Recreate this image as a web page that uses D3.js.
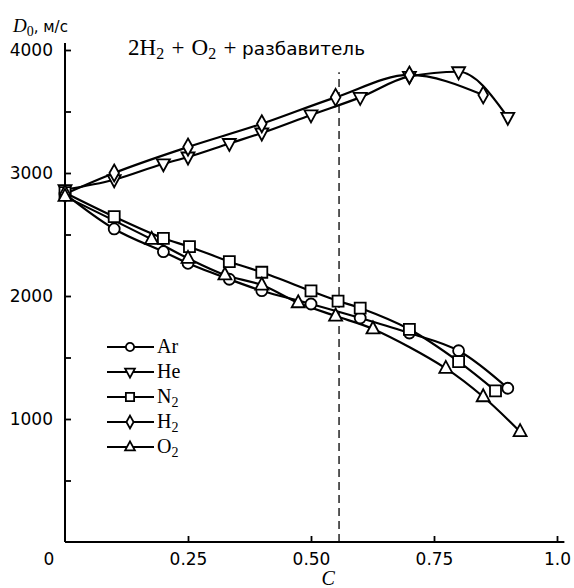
<!DOCTYPE html>
<html><head><meta charset="utf-8">
<script src="https://cdn.jsdelivr.net/npm/d3@7"></script>
<style>body{margin:0;background:#fff}svg{display:block}</style>
</head><body>
<svg id="c" width="574" height="588"></svg>
<script>
// ---- data ----
const seriesNames = ["Ar", "He", "N2", "H2", "O2"];
const C_Ar = [0, 0.1, 0.2, 0.25, 0.334, 0.4, 0.5, 0.6, 0.7, 0.8, 0.9];
const D_Ar = [2830, 2545, 2360, 2266, 2136, 2043, 1935, 1821, 1699, 1555, 1250];
const C_He = [0, 0.1, 0.2, 0.25, 0.334, 0.4, 0.5, 0.6, 0.7, 0.8, 0.9];
const D_He = [2865, 2945, 3075, 3130, 3240, 3325, 3472, 3615, 3785, 3823, 3453];
const C_N2 = [0, 0.1, 0.2, 0.253, 0.334, 0.4, 0.5, 0.555, 0.6, 0.7, 0.8, 0.875];
const D_N2 = [2840, 2645, 2469, 2401, 2279, 2193, 2041, 1959, 1902, 1729, 1466, 1228];
const C_H2 = [0, 0.1, 0.25, 0.4, 0.55, 0.7, 0.85];
const D_H2 = [2830, 3000, 3211, 3400, 3615, 3797, 3634];
const C_O2 = [0, 0.176, 0.25, 0.325, 0.4, 0.474, 0.55, 0.626, 0.774, 0.85, 0.925];
const D_O2 = [2810, 2461, 2306, 2171, 2089, 1945, 1837, 1732, 1412, 1181, 897];
const xTicks = [0.25, 0.5, 0.75, 1.0];
const xTickLabels = ["0.25", "0.50", "0.75", "1.0"];
const yTicks = [500, 1000, 1500, 2000, 2500, 3000, 3500, 4000];
const yTickLabels = ["", "1000", "", "2000", "", "3000", "", "4000"];
const dashedC = 0.557;

const series = [
  {name: "Ar", sub: "", C: C_Ar, D: D_Ar, marker: "circle", smooth: "cr"},
  {name: "He", sub: "", C: C_He, D: D_He, marker: "tridown", smooth: "mono"},
  {name: "N", sub: "2", C: C_N2, D: D_N2, marker: "square", smooth: "cr"},
  {name: "H", sub: "2", C: C_H2, D: D_H2, marker: "diamond", smooth: "mono"},
  {name: "O", sub: "2", C: C_O2, D: D_O2, marker: "triup", smooth: "cr"}
];

// ---- scales ----
const svg = d3.select("#c");
const x = d3.scaleLinear().domain([0, 1]).range([65, 557]);
const y = d3.scaleLinear().domain([0, 4000]).range([542, 50]);

function markerPath(type, s) {
  s = s || 1;
  const p = d3.path();
  if (type === "circle") { p.arc(0, 0, 5.5 * s, 0, 2 * Math.PI); }
  else if (type === "square") { const h = 5.5 * s; p.rect(-h, -h, 2 * h, 2 * h); }
  else if (type === "triup") { p.moveTo(0, -7.5 * s); p.lineTo(6.5 * s, 4.5 * s); p.lineTo(-6.5 * s, 4.5 * s); p.closePath(); }
  else if (type === "tridown") { p.moveTo(0, 7.5 * s); p.lineTo(6.5 * s, -4.5 * s); p.lineTo(-6.5 * s, -4.5 * s); p.closePath(); }
  else if (type === "diamond") { p.moveTo(0, -8.5 * s); p.lineTo(4.8 * s, 0); p.lineTo(0, 8.5 * s); p.lineTo(-4.8 * s, 0); p.closePath(); }
  return p.toString();
}

// ---- axes ----
const xAxis = d3.axisBottom(x).tickValues(xTicks).tickSize(-6).tickPadding(11)
  .tickFormat((d, i) => xTickLabels[i]);
const gx = svg.append("g").attr("transform", `translate(0,${y(0)})`).call(xAxis);
gx.select(".domain").remove();
gx.selectAll("line").attr("stroke", "#000").attr("stroke-width", 1.8);
gx.selectAll("text").attr("font-family", "DejaVu Sans").attr("font-size", 17).attr("fill", "#000");

const yAxis = d3.axisLeft(y).tickValues(yTicks).tickSize(-6).tickPadding(12)
  .tickFormat((d, i) => yTickLabels[i]);
const gy = svg.append("g").attr("transform", `translate(${x(0)},0)`).call(yAxis);
gy.select(".domain").remove();
gy.selectAll("line").attr("stroke", "#000").attr("stroke-width", 1.8);
gy.selectAll("text").attr("font-family", "DejaVu Sans").attr("font-size", 17).attr("fill", "#000");

// axis lines
svg.append("line").attr("x1", x(0)).attr("x2", x(1.015)).attr("y1", y(0)).attr("y2", y(0))
  .attr("stroke", "#000").attr("stroke-width", 2);
svg.append("line").attr("x1", x(0)).attr("x2", x(0)).attr("y1", y(0)).attr("y2", y(4057))
  .attr("stroke", "#000").attr("stroke-width", 2);

// zero label
svg.append("text").attr("x", x(0) - 16).attr("y", y(0) + 23).attr("text-anchor", "middle")
  .attr("font-family", "DejaVu Sans").attr("font-size", 17).text("0");

// axis titles
svg.append("text").attr("x", x(0.535)).attr("y", 585).attr("text-anchor", "middle")
  .attr("font-family", "Liberation Serif").attr("font-style", "italic").attr("font-size", 20).text("C");
const yt = svg.append("text").attr("x", 13).attr("y", 32).attr("font-family", "Liberation Serif").attr("font-size", 19);
yt.append("tspan").attr("font-style", "italic").text("D");
yt.append("tspan").attr("font-size", 14).attr("dy", 4).text("0");
yt.append("tspan").attr("dy", -4).attr("font-family", "DejaVu Sans").attr("font-size", 15).text(", м/с");

// title
const tt = svg.append("text").attr("x", 128).attr("y", 55).attr("font-family", "Liberation Serif")
  .attr("font-size", 23).attr("word-spacing", 1.5);
tt.append("tspan").text("2H");
tt.append("tspan").attr("font-size", 16).attr("dy", 4).text("2");
tt.append("tspan").attr("dy", -4).text(" + O");
tt.append("tspan").attr("font-size", 16).attr("dy", 4).text("2");
tt.append("tspan").attr("dy", -4).text(" +");
svg.append("text").attr("x", 242).attr("y", 55).attr("font-family", "DejaVu Sans").attr("font-size", 17.5)
  .attr("textLength", 123).attr("lengthAdjust", "spacingAndGlyphs").text("разбавитель");

// dashed line
svg.append("line").attr("x1", x(dashedC)).attr("x2", x(dashedC)).attr("y1", y(0)).attr("y2", y(3820))
  .attr("stroke", "#000").attr("stroke-width", 1.3).attr("stroke-dasharray", "8,5");

// ---- curves ----
const lineCR = d3.line().x(d => x(d[0])).y(d => y(d[1])).curve(d3.curveCatmullRom.alpha(0.5));
const lineMono = d3.line().x(d => x(d[0])).y(d => y(d[1])).curve(d3.curveMonotoneX);
series.forEach(s => {
  const pts = s.C.map((c, i) => [c, s.D[i]]);
  const gen = s.smooth === "mono" ? lineMono : lineCR;
  svg.append("path").attr("d", gen(pts)).attr("fill", "none").attr("stroke", "#000").attr("stroke-width", 2.2);
});
series.forEach(s => {
  const pts = s.C.map((c, i) => [c, s.D[i]]);
  svg.append("g").selectAll("path").data(pts).join("path")
    .attr("transform", d => `translate(${x(d[0])},${y(d[1])})`)
    .attr("d", markerPath(s.marker))
    .attr("fill", "#fff").attr("stroke", "#000").attr("stroke-width", 1.8);
});

// ---- legend ----
const lg = svg.append("g");
series.forEach((s, i) => {
  const yy = 347 + i * 25;
  lg.append("line").attr("x1", 107).attr("x2", 154).attr("y1", yy).attr("y2", yy).attr("stroke", "#000").attr("stroke-width", 2);
  lg.append("path").attr("transform", `translate(130,${yy})`).attr("d", markerPath(s.marker, 0.75))
    .attr("fill", "#fff").attr("stroke", "#000").attr("stroke-width", 1.8);
  const t = lg.append("text").attr("x", 157).attr("y", yy + 6).attr("font-family", "Liberation Serif").attr("font-size", 20);
  t.append("tspan").text(s.name);
  if (s.sub) t.append("tspan").attr("font-size", 14).attr("dy", 4).text(s.sub);
});
</script>
</body></html>
